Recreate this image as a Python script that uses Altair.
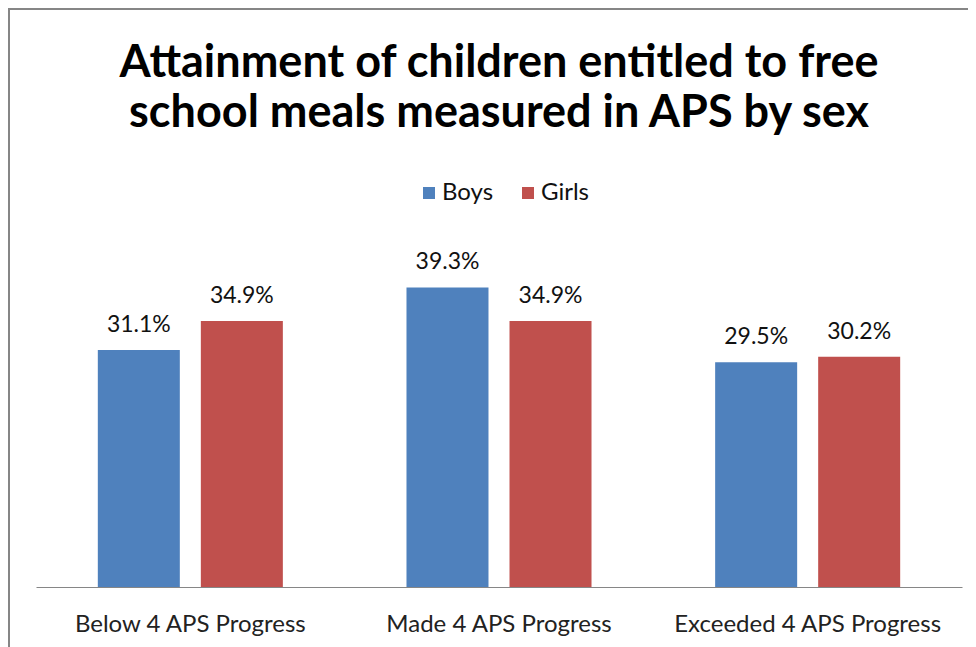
import altair as alt
import pandas as pd

categories = ["Below 4 APS Progress", "Made 4 APS Progress", "Exceeded 4 APS Progress"]
series = ["Boys", "Girls"]
boys = [31.1, 39.3, 29.5]
girls = [34.9, 34.9, 30.2]
colors = ["#4F81BD", "#C0504D"]

rows = []
for c, b, g in zip(categories, boys, girls):
    rows.append({"category": c, "sex": "Boys", "value": b, "label": f"{b:.1f}%"})
    rows.append({"category": c, "sex": "Girls", "value": g, "label": f"{g:.1f}%"})
df = pd.DataFrame(rows)

FONT = "Lato"

x = alt.X("category:N", sort=categories, title=None,
          scale=alt.Scale(paddingInner=0, paddingOuter=0),
          axis=alt.Axis(labelAngle=0, ticks=False, domainColor="#868686", domainWidth=1,
                        labelFontSize=24, labelFont=FONT, labelColor="#222222",
                        labelPadding=25, labelLimit=400))
xo = alt.XOffset("sex:N", sort=series, scale=alt.Scale(paddingInner=0.204, paddingOuter=0.6))
y = alt.Y("value:Q", scale=alt.Scale(domain=[0, 45]), axis=None)

bars = alt.Chart(df).mark_bar().encode(
    x=x, xOffset=xo, y=y,
    color=alt.Color("sex:N", sort=series, scale=alt.Scale(domain=series, range=colors),
                    legend=alt.Legend(title=None, orient="none", direction="horizontal",
                                      legendX=381, legendY=-63, symbolType="square",
                                      symbolSize=144, symbolStrokeWidth=0,
                                      labelFontSize=24, labelFont=FONT, labelColor="#111111",
                                      columnPadding=22, labelOffset=1, padding=0)),
)

labels = alt.Chart(df).mark_text(baseline="alphabetic", dy=-18, fontSize=23, font=FONT,
                                 color="#111111").encode(
    x=x, xOffset=xo, y=y, text="label:N"
)

border = alt.Chart(pd.DataFrame({"a": [0]})).mark_rect(
    filled=False, stroke="#868686", strokeWidth=2, clip=False
).encode(x=alt.value(-27), x2=alt.value(3000), y=alt.value(-235), y2=alt.value(3000))

chart = alt.layer(border, bars, labels).properties(
    width=926, height=343,
    autosize=alt.AutoSizeParams(type="none"),
    padding={"left": 28, "top": 236, "right": 6, "bottom": 60},
    title=alt.TitleParams(
        ["Attainment of children entitled to free", "school meals measured in APS by sex"],
        fontSize=45, font=FONT, fontWeight="bold", color="#000000",
        anchor="middle", lineHeight=50, offset=0, dy=128,
    ),
).configure_view(stroke=None)

chart.save("out.html", embed_options={"renderer": "svg", "actions": False})
